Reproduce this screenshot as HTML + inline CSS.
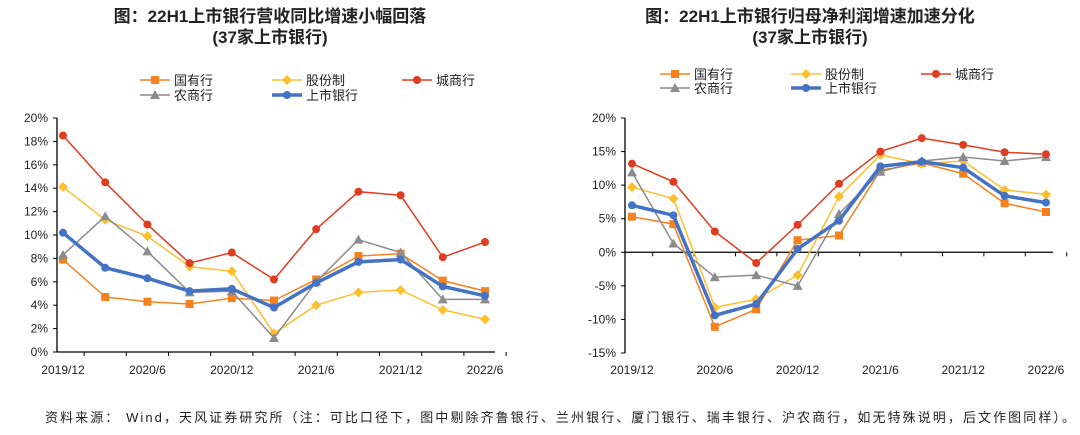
<!DOCTYPE html>
<html><head><meta charset="utf-8"><style>
body{margin:0;background:#fff;width:1080px;height:430px;overflow:hidden;font-family:"Liberation Sans","Noto Sans CJK SC",sans-serif}
svg text{font-family:"Liberation Sans","Noto Sans CJK SC",sans-serif}
</style></head><body>
<svg id="c" width="1080" height="430">
<text x="270" y="22" text-anchor="middle" font-size="17" font-weight="bold" fill="#222">图：22H1上市银行营收同比增速小幅回落</text>
<text x="270" y="43" text-anchor="middle" font-size="17" font-weight="bold" fill="#222">(37家上市银行)</text>
<text x="810" y="22" text-anchor="middle" font-size="17" font-weight="bold" fill="#222">图：22H1上市银行归母净利润增速加速分化</text>
<text x="810" y="43" text-anchor="middle" font-size="17" font-weight="bold" fill="#222">(37家上市银行)</text>
<text x="45" y="422" font-size="13" fill="#222" textLength="1030" lengthAdjust="spacing">资料来源： Wind，天风证券研究所（注：可比口径下，图中剔除齐鲁银行、兰州银行、厦门银行、瑞丰银行、沪农商行，如无特殊说明，后文作图同样）。</text>
</svg>
<script>
const categories=["2019/12","2020/3","2020/6","2020/9","2020/12","2021/3","2021/6","2021/9","2021/12","2022/3","2022/6"];
const seriesNames=["国有行","股份制","城商行","农商行","上市银行"];
const leftGuoyou=[7.9,4.7,4.3,4.1,4.6,4.4,6.2,8.2,8.4,6.1,5.2];
const leftGufen=[14.1,11.3,9.9,7.3,6.9,1.6,4.0,5.1,5.3,3.6,2.8];
const leftCheng=[18.5,14.5,10.9,7.6,8.5,6.2,10.5,13.7,13.4,8.1,9.4];
const leftNong=[8.3,11.6,8.6,5.1,5.2,1.2,6.0,9.6,8.5,4.5,4.5];
const leftAll=[10.2,7.2,6.3,5.2,5.4,3.8,5.9,7.7,7.9,5.6,4.8];
const rightGuoyou=[5.3,4.2,-11.1,-8.5,1.8,2.5,12.2,13.3,11.7,7.3,6.0];
const rightGufen=[9.7,8.0,-8.2,-7.0,-3.4,8.3,14.5,13.2,13.6,9.3,8.6];
const rightCheng=[13.2,10.5,3.1,-1.6,4.1,10.2,15.0,17.0,16.0,14.9,14.6];
const rightNong=[11.9,1.3,-3.7,-3.4,-5.0,5.7,12.0,13.6,14.2,13.6,14.2];
const rightAll=[7.0,5.5,-9.4,-7.7,0.5,4.7,12.8,13.5,12.6,8.4,7.4];
const leftTicks=[0,2,4,6,8,10,12,14,16,18,20];
const rightTicks=[-15,-10,-5,0,5,10,15,20];
const xLabelIdx=[0,2,4,6,8,10];

const NS="http://www.w3.org/2000/svg";
const svg=document.getElementById('c');
function mk(tag,attrs,parent){const e=document.createElementNS(NS,tag);for(const k in attrs)e.setAttribute(k,attrs[k]);(parent||svg).appendChild(e);return e;}
const styles=[
 {c:"#F5821F",m:"sq",w:1.5},{c:"#FDBF2D",m:"di",w:1.5},{c:"#E03C1F",m:"ci",w:1.5},{c:"#8C8C8C",m:"tr",w:1.5},{c:"#4472C4",m:"ci",w:3.5}];
function marker(g,s,x,y,r){
 if(s.m==="sq")mk('rect',{x:x-r,y:y-r,width:2*r,height:2*r,fill:s.c},g);
 else if(s.m==="di")mk('polygon',{points:`${x},${y-r-1} ${x+r+1},${y} ${x},${y+r+1} ${x-r-1},${y}`,fill:s.c},g);
 else if(s.m==="tr")mk('polygon',{points:`${x},${y-r-1} ${x+r+1},${y+r} ${x-r-1},${y+r}`,fill:s.c},g);
 else mk('circle',{cx:x,cy:y,r:r,fill:s.c},g);
}
function chart(o){
 const g=mk('g',{});
 
 
 const xs=i=>o.x0+i*o.dx;
 const ys=v=>o.yb-(v-o.ymin)/(o.ymax-o.ymin)*(o.yb-o.yt);
 mk('line',{x1:o.ax,y1:o.yt,x2:o.ax,y2:o.yb,stroke:"#000","stroke-width":1.3},g);
 const zy=ys(0);
 mk('line',{x1:o.ax,y1:zy,x2:o.axEnd,y2:zy,stroke:"#000","stroke-width":1.3},g);
 o.ticks.forEach(t=>{const y=ys(t);
  mk('line',{x1:o.ax-4,y1:y,x2:o.ax,y2:y,stroke:"#000"},g);
  const tx=mk('text',{x:o.ax-9,y:y+4,"text-anchor":"end","font-size":12,fill:"#222"},g);tx.textContent=t+"%";
  
  
 });
 categories.forEach((c,i)=>{mk('line',{x1:xs(i)+o.dx/2,y1:zy,x2:xs(i)+o.dx/2,y2:zy+4,stroke:"#000"},g);});
 xLabelIdx.forEach(i=>{const tx=mk('text',{x:xs(i),y:374,"text-anchor":"middle","font-size":12,fill:"#222"},g);tx.textContent=categories[i];
  
  });
 const order=[0,1,3,2,4];
 order.forEach(k=>{const s=styles[k];const d=o.data[k];
  const pl=mk('polyline',{points:d.map((v,i)=>xs(i)+","+ys(v)).join(" "),fill:"none",stroke:s.c,"stroke-width":s.w},g);
  
  
  d.forEach((v,i)=>marker(g,s,xs(i),ys(v),4));
 });
 o.leg.forEach((p,k)=>{const s=styles[k];
  const lg=mk('g',{},g);
  
  
  mk('line',{x1:p[0],y1:p[1],x2:p[0]+30,y2:p[1],stroke:s.c,"stroke-width":s.w},lg);
  marker(lg,s,p[0]+15,p[1],4);
  const t=mk('text',{x:p[0]+34,y:p[1]+5,"font-size":13,fill:"#222"},lg);t.textContent=seriesNames[k];
 });
}
chart({name:"left-chart",ax:57,axEnd:495,x0:63,dx:42.2,yt:118,yb:352,ymin:0,ymax:20,ticks:leftTicks,
 data:[leftGuoyou,leftGufen,leftCheng,leftNong,leftAll],
 leg:[[140,80],[272,80],[402,80],[140,95],[272,95]]});
chart({name:"right-chart",ax:625,axEnd:1053,x0:632,dx:41.4,yt:118,yb:353,ymin:-15,ymax:20,ticks:rightTicks,
 data:[rightGuoyou,rightGufen,rightCheng,rightNong,rightAll],
 leg:[[660,74],[791,74],[921,74],[660,88],[791,88]]});
</script>
</body></html>
